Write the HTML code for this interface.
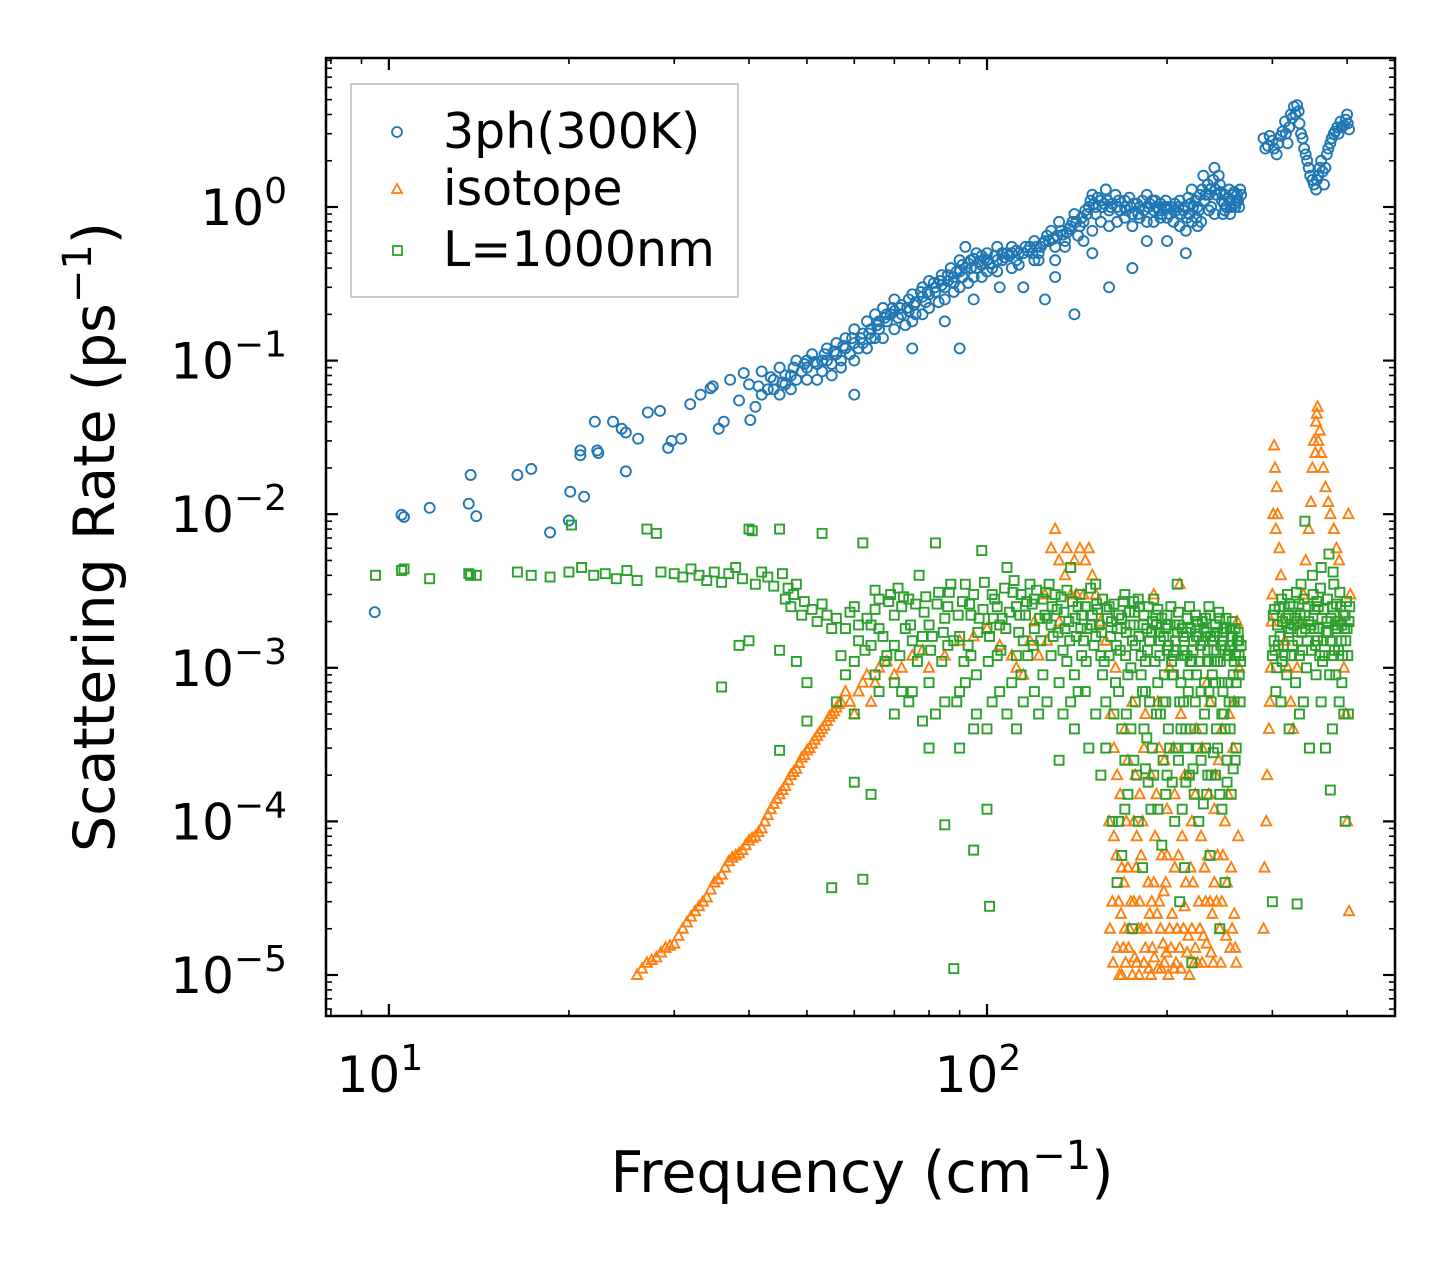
<!DOCTYPE html>
<html><head><meta charset="utf-8"><style>
html,body{margin:0;padding:0;background:#fff;}
svg{display:block;font-family:"DejaVu Sans","Liberation Sans",sans-serif;}
</style></head><body>
<svg id="chart" width="1455" height="1265" viewBox="0 0 1455 1265" xmlns="http://www.w3.org/2000/svg">
<rect width="1455" height="1265" fill="#fff"/>
<g id="marks"></g>
<g id="axes"></g>
<rect x="326" y="58" width="1069" height="958" fill="none" stroke="#000" stroke-width="2.5"/>
<text x="862" y="1192" font-size="57" text-anchor="middle">Frequency (cm<tspan dy="-23" font-size="40">−1</tspan><tspan dy="23">)</tspan></text>
<text transform="translate(114,537) rotate(-90)" font-size="57" text-anchor="middle">Scattering Rate (ps<tspan dy="-23" font-size="40">−1</tspan><tspan dy="23">)</tspan></text>
<g>
<rect x="351" y="84" width="387" height="213" fill="#fff" fill-opacity="0.8" stroke="#bbb" stroke-width="1.5"/>
<circle cx="397" cy="132" r="5" fill="none" stroke="#1f77b4" stroke-width="1.8"/>
<text x="443" y="148" font-size="49">3ph(300K)</text>
<polygon points="397,184 402,193 392,193" fill="none" stroke="#ff7f0e" stroke-width="1.8"/>
<text x="443" y="205" font-size="49">isotope</text>
<rect x="393" y="246" width="9" height="9" fill="none" stroke="#2ca02c" stroke-width="1.8"/>
<text x="443" y="266" font-size="49">L=1000nm</text>
</g>
</svg>
<script>
const xTickValues=[10,100];
const xTickLabels=["1","2"];
const yTickValues=[1,0.1,0.01,0.001,0.0001,0.00001];
const yTickLabels=["0","−1","−2","−3","−4","−5"];
const blueData=[[9.47,0.0023],[10.5,0.0099],[10.6,0.0096],[11.7,0.011],[13.6,0.0117],[13.7,0.018],[14.0,0.0097],[16.4,0.018],[17.3,0.0197],[18.6,0.0076],[20.0,0.0091],[20.1,0.014],[21.2,0.013],[20.9,0.0242],[20.9,0.026],[22.1,0.04],[22.3,0.026],[22.4,0.025],[23.7,0.04],[24.5,0.036],[24.9,0.034],[26.1,0.031],[24.9,0.019],[27.1,0.046],[28.4,0.047],[29.3,0.027],[29.7,0.03],[30.8,0.031],[31.9,0.052],[33.2,0.06],[34.5,0.066],[34.8,0.068],[35.6,0.036],[36.3,0.04],[37.2,0.075],[38.5,0.055],[39.2,0.083],[40.2,0.041],
[40,0.07],[41,0.05],[42,0.085],[43,0.065],[44,0.075],[45,0.09],[46,0.07],[47,0.08],[48,0.1],[49,0.085],[50,0.09],[51,0.11],[52,0.075],[53,0.1],[54,0.12],[55,0.095],[56,0.13],[57,0.1],[58,0.14],[59,0.11],[60,0.16],[61,0.12],[62,0.15],[63,0.18],[64,0.14],[65,0.2],[66,0.16],[67,0.22],[68,0.18],[69,0.2],[70,0.25],[71,0.19],[72,0.23],[74,0.21],[75,0.27],[76,0.2],[78,0.3],[79,0.24],[80,0.33],[82,0.28],[84,0.36],[85,0.3],[87,0.4],[88,0.32],[90,0.45],[91,0.35],[92,0.55],[94,0.4],[96,0.5],[98,0.42],[100,0.5],[102,0.4],[104,0.55],[106,0.45],[108,0.5],[110,0.55],[112,0.45],[115,0.5],[118,0.55],[120,0.6],[122,0.5],[125,0.6],[128,0.7],[130,0.55],[132,0.8],[135,0.6],[138,0.75],[140,0.9],[142,0.65],[145,0.8],[148,1.0],[150,1.2],[152,0.9],[155,1.1],[158,1.3],[160,0.95],[165,1.0],[170,1.1],[175,0.9],[180,1.0],[185,1.2],[190,0.95],[195,1.05],[200,1.0],[205,0.8],[210,1.1],[215,0.7],[218,0.9],[220,1.3],[225,1.0],[230,1.6],[235,1.2],[240,1.8],[245,1.4],[250,1.2],[255,1.1],[260,1.0],[265,1.3],
[42,0.06],[44,0.065],[46,0.08],[48,0.075],[50,0.1],[52,0.095],[54,0.1],[56,0.11],[58,0.12],[60,0.13],[62,0.13],[64,0.16],[66,0.18],[68,0.2],[70,0.21],[72,0.2],[74,0.25],[76,0.24],[78,0.26],[80,0.27],[82,0.3],[84,0.31],[86,0.33],[88,0.35],[90,0.38],[92,0.4],[94,0.45],[96,0.4],[98,0.48],[100,0.45],[103,0.48],[106,0.5],[109,0.48],[112,0.52],[116,0.55],[119,0.5],[123,0.55],[126,0.65],[129,0.62],[133,0.7],[136,0.68],[139,0.8],[143,0.75],[146,0.95],[149,1.1],[151,1.05],[153,1.15],[156,1.0],[159,1.1],[162,1.05],[164,1.2],[167,0.95],[170,1.0],[173,1.15],[176,1.05],[179,0.9],[182,1.1],[186,1.0],[189,1.1],[192,1.0],[196,0.9],[199,1.1],[203,1.0],[207,0.95],[211,0.9],[214,1.0],[217,1.15],[221,1.0],[224,0.85],[227,1.2],[231,1.1],[234,1.4],[237,1.0],[241,1.3],[244,1.6],[247,1.1],[251,1.0],[254,1.3],[258,1.2],[263,1.1],[266,1.2],
[45,0.06],[50,0.075],[55,0.08],[60,0.1],[65,0.14],[70,0.16],[75,0.18],[80,0.22],[85,0.25],[90,0.3],[95,0.35],[100,0.38],[110,0.4],[120,0.45],[130,0.45],[145,0.6],[155,0.8],[165,0.8],[175,0.75],[185,0.8],[195,0.85],[210,0.75],[225,0.75],[240,0.9],[255,0.9],
[60,0.06],[75,0.12],[85,0.18],[90,0.12],[95,0.25],[105,0.3],[115,0.3],[125,0.25],[140,0.2],[160,0.3],[175,0.4],[215,0.5],[200,0.6],[130,0.35],[150,0.5],[185,0.6],[228,0.8],[248,0.9],[262,1.2],
[290,2.8],[295,2.5],[300,2.7],[305,2.2],[310,2.9],[315,3.6],[318,2.6],[322,4.0],[326,4.5],[330,4.6],[333,3.5],[337,2.8],[341,2.2],[345,1.8],[350,1.5],[355,1.3],[358,1.6],[362,2.0],[366,1.4],[370,2.2],[375,2.6],[380,3.0],[385,3.3],[390,3.6],[395,3.4],[400,4.0],[403,3.2],
[292,2.4],[297,2.9],[302,2.4],[307,2.6],[312,3.1],[316,3.0],[320,3.3],[324,3.8],[328,4.0],[332,4.2],[335,3.0],[339,2.4],[343,2.0],[347,1.6],[352,1.4],[356,1.5],[360,1.8],[364,1.7],[368,1.8],[372,2.4],[377,2.8],[382,3.1],[387,3.0],[392,3.3],[398,3.7],[401,3.5]];
const blueExtra=[[41.5,0.068],[43.5,0.078],[45.5,0.072],[47.5,0.09],[49.5,0.095],[51.5,0.098],[53.5,0.11],[55.5,0.115],[57.5,0.125],[59.5,0.14],[61.5,0.14],[63.5,0.15],[65.5,0.17],[67.5,0.19],[69.5,0.22],[71.5,0.22],[73.5,0.22],[75.5,0.23],[77.5,0.28],[79.5,0.28],[81.5,0.32],[83.5,0.33],[86,0.36],[89,0.38],[91,0.42],[93,0.43],[95,0.46],[97,0.44],[99,0.46],[101,0.43],[104,0.45],[107,0.47],[110,0.5],[113,0.5],[117,0.52],[121,0.55],[124,0.58],[127,0.6],[131,0.65],[134,0.66],[137,0.72],[141,0.8],[144,0.85],[147,0.9],[152,1.0],[157,1.05],[161,1.0],[166,1.1],[171,0.95],[174,1.0],[178,1.05],[183,0.95],[187,1.05],[191,1.1],[194,0.95],[198,1.0],[202,0.9],[206,1.05],[209,1.0],[213,0.95],[216,0.85],[219,1.05],[223,1.1],[226,0.95],[229,1.3],[232,1.2],[236,1.3],[239,1.5],[242,1.2],[246,1.25],[249,1.05],[253,1.15],[256,1.0],[259,1.25],[261,1.1],[264,1.0],
[47,0.065],[53,0.085],[57,0.09],[63,0.12],[67,0.14],[73,0.17],[78,0.2],[83,0.24],[88,0.28],[93,0.32],[98,0.35],[104,0.38],[113,0.42],[122,0.45],[135,0.55],[150,0.7],[160,0.75],[170,0.85],[180,0.85],[190,0.8],[200,0.85],[220,0.8],[235,0.95],[250,0.95],[260,1.05]];
const orangeData=[[26,1e-5],[27,1.2e-5],[28,1.3e-5],[29,1.5e-5],[30,1.6e-5],[31,2e-5],[32,2.4e-5],[33,2.8e-5],[34,3.2e-5],[35,4e-5],[36,4.5e-5],[37,5.5e-5],[38,6e-5],[39,6.5e-5],[40,7.5e-5],[41,8e-5],[42,9e-5],[43,1.1e-4],[44,1.3e-4],[45,1.5e-4],[46,1.7e-4],[47,2e-4],[48,2.2e-4],[49,2.6e-4],[50,2.9e-4],[51,3.2e-4],[52,3.6e-4],[53,4e-4],[54,4.5e-4],[55,5e-4],[56,5.5e-4],[57,6e-4],[58,7e-4],[60,5e-4],[62,8e-4],[64,6e-4],[66,1e-3],[70,9e-4],[75,1.2e-3],[80,1e-3],[90,1.5e-3],[100,1.8e-3],[110,1.2e-3],[115,9e-4],[120,2e-3],[128,6e-3],[130,8e-3],[135,4e-3],[140,5e-3],[143,6e-3],[145,3e-3],[150,4e-3],[155,2e-3],[160,1e-4],[162,3e-5],[165,1.5e-5],[168,1e-5],[170,2e-5],[172,5e-5],[175,1e-5],[178,1.2e-5],[180,3e-5],[182,1e-4],[185,2e-5],[188,1e-5],[190,4e-5],[192,1.5e-4],[195,2e-5],[198,1.2e-5],[200,6e-5],[205,3e-4],[210,1.5e-5],[215,4e-5],[220,2e-5],[225,1.2e-5],[228,8e-5],[232,3e-5],[235,1.5e-4],[240,4e-5],[245,2e-5],[250,1e-4],[255,1.5e-5],[258,3e-4],[262,2e-3],[190,3e-3],[210,3.5e-3],[165,2e-4],[175,6e-4],[168,5e-5],[178,8e-5],[186,4e-5],[196,6e-5],[203,1.5e-5],[212,8e-5],[218,1e-5],[238,2.5e-5],[248,6e-5],
[26.5,1.1e-5],[27.5,1.25e-5],[28.5,1.4e-5],[29.5,1.55e-5],[30.5,1.8e-5],[31.5,2.2e-5],[32.5,2.6e-5],[33.5,3e-5],[34.5,3.6e-5],[35.5,4.2e-5],[36.5,5e-5],[37.5,5.8e-5],[38.5,6.2e-5],[39.5,7e-5],[40.5,7.8e-5],[41.5,8.5e-5],[42.5,1e-4],[43.5,1.2e-4],[44.5,1.4e-4],[45.5,1.6e-4],[46.5,1.85e-4],[47.5,2.1e-4],[48.5,2.4e-4],[49.5,2.7e-4],[50.5,3e-4],[51.5,3.4e-4],[52.5,3.8e-4],[53.5,4.2e-4],[54.5,4.8e-4],[55.5,5.2e-4],[56.5,5.8e-4],[59,6e-4],[61,7e-4],[63,9e-4],[65,8e-4],[68,1.1e-3],[72,1e-3],[78,1.3e-3],[85,1.2e-3],[95,1.6e-3],[105,1.4e-3],[112,1e-3],[118,1.5e-3],[125,3e-3],[132,5e-3],[138,3e-3],[148,6e-3],[152,3e-3],[158,1.5e-3],
[161,5e-4],[163,8e-5],[166,3e-5],[169,1.5e-5],[171,1e-4],[173,2e-5],[176,3e-5],[179,2e-5],[181,6e-5],[183,1.2e-5],[187,2.5e-5],[189,1.5e-5],[191,8e-5],[193,1.1e-5],[194,3e-5],[197,1.6e-5],[199,4e-5],[201,1e-5],[204,2.5e-5],[207,1.2e-5],[209,6e-5],[213,2e-5],[216,1.4e-5],[219,5e-5],[222,1.2e-5],[226,3e-5],[230,1.8e-5],[234,6e-5],[237,1.4e-5],[242,3e-5],[246,1.2e-5],[252,4e-5],[257,2e-5],[260,1.5e-5],[263,8e-5],
[164,1e-3],[170,4e-4],[177,2e-4],[184,5e-4],[194,3e-4],[202,1e-3],[214,2e-4],[224,4e-4],[236,6e-4],[244,2.5e-4],[254,5e-4],[264,1e-3],[180,1.5e-4],[200,1.2e-4],[220,1e-4],[240,1.2e-4],
[290,2e-5],[293,1e-4],[296,4e-4],[298,1e-3],[300,3e-3],[302,2.8e-2],[305,1.5e-2],[308,6e-3],[312,2e-3],[318,1e-3],[325,4e-4],[330,1e-3],[338,3e-3],[345,8e-3],[350,2e-2],[355,4e-2],[357,5e-2],[360,3.5e-2],[365,2e-2],[372,1.2e-2],[380,8e-3],[388,5e-3],[395,1e-3],[400,1e-4],[403,2.6e-5],[405,3e-3],
[291,5e-5],[294,2e-4],[297,6e-4],[299,2e-3],[301,1e-2],[303,2e-2],[304,8e-3],[306,1e-2],[310,4e-3],[315,1.5e-3],[322,6e-4],[334,2e-3],[341,5e-3],[348,1.2e-2],[352,3e-2],[354,2.5e-2],[356,4.5e-2],[358,3e-2],[362,2.5e-2],[368,1.5e-2],[375,1e-2],[384,6e-3],[392,2e-3],[398,5e-4],[402,1e-2]];
const orangeExtra=[[160.5,2e-5],[162.5,1.2e-5],[164.5,6e-5],[166.5,1e-5],[167.5,2.5e-5],[169.5,4e-5],[170.5,1.2e-5],[172.5,1.5e-5],[174,3e-5],[176.5,1.3e-5],[177.5,5e-5],[179.5,1e-5],[181,2e-5],[184,1.5e-5],[186.5,1.1e-5],[188.5,3e-5],[190.5,1.3e-5],[192.5,2.5e-5],[195.5,1.1e-5],[197.5,3.5e-5],[199.5,1.4e-5],[202,2e-5],[205.5,1.1e-5],[206,5e-5],[208,2e-5],[211,1.1e-5],[214,2.8e-5],[217,1.8e-5],[221,4e-5],[223,1.5e-5],[227,2e-5],[229,1.2e-5],[231,5e-5],[233,1.6e-5],[236,3e-5],[239,1.2e-5],[243,6e-5],[247,3e-5],[251,1.8e-5],[256,5e-5],[259,2.5e-5],[261,1.2e-5],
[163,3e-4],[167,1.5e-4],[172,2.5e-4],[176,1e-4],[183,3e-4],[188,2e-4],[193,6e-4],[198,2.5e-4],[206,1.5e-4],[211,5e-4],[217,2e-4],[223,1.5e-4],[229,3e-4],[233,8e-4],[241,2e-4],[247,4e-4],[253,1.5e-4],[259,6e-4],[132,2e-3],[136,6e-3],[141,3e-3],[146,5e-3],[126,1.5e-3],[122,1.2e-3]];
const greenData=[[9.5,0.004],[10.5,0.0043],[10.6,0.0044],[11.7,0.0038],[13.6,0.0041],[13.7,0.004],[14,0.004],[16.4,0.0042],[17.3,0.004],[18.6,0.0039],[20,0.0042],[20.2,0.0085],[21,0.0045],[22,0.004],[23,0.0041],[24,0.0038],[25,0.0043],[26,0.0037],[27,0.008],[28,0.0075],[28.5,0.0042],[30,0.0041],[31,0.0039],[32,0.0044],[33,0.004],[34,0.0037],[35,0.0042],[36,0.0036],[37,0.0041],[38,0.0045],[39,0.0038],[40,0.008],[40.5,0.0078],[41,0.0035],[42,0.0042],[43,0.0039],[44,0.0034],[45,0.008],[45.5,0.0041],[46,0.0028],[47,0.0025],[48,0.0035],[49,0.0022],[38.5,0.0014],[40,0.0015],[36,7.5e-4],[45,0.0013],[48,0.0011],[50,0.0008],[52,0.002],[53,0.0075],[55,0.0018],[56,0.0006],[57,0.0012],[58,0.0009],[60,0.0025],[62,0.0065],[64,0.0019],[45,2.9e-4],[50,4.5e-4],[55,3.7e-5],[62,4.2e-5],[60,0.00018],[64,0.00015],[65,0.0032],[68,0.0012],[70,0.0022],[72,0.0007],[74,0.0028],[75,0.0015],[77,0.004],[78,0.00045],[80,0.0019],[82,0.0065],[84,0.0011],[85,9.5e-5],[86,0.0025],[88,1.1e-5],[89,0.0006],[90,0.0016],[92,0.0035],[94,0.0022],[95,6.5e-5],[96,0.0009],[98,0.0058],[100,0.0018],[101,2.8e-5],[100,1.2e-4],[102,0.003],[104,0.0012],[106,0.0021],[108,0.0045],[110,0.0008],[112,0.0025],[115,0.0015],[118,0.0035],[120,0.0018],[122,0.0005],[125,0.0022],[128,0.0012],[130,0.003],[132,0.00025],[135,0.0018],[138,0.0045],[140,0.0009],[142,0.0025],[145,0.0015],[148,0.0003],[150,0.0022],[152,0.0035],[155,0.0012],[158,0.0006],[160,0.0025],[162,0.0001],[165,0.0018],[168,0.0004],[170,0.003],[172,0.0009],[175,0.0015],[178,0.0002],[180,0.0025],[182,0.0007],[185,0.0018],[188,0.00012],[190,0.0028],[192,0.0005],[195,0.0015],[198,0.0009],[200,0.0022],[202,0.0003],[205,0.0012],[208,0.0035],[210,0.0006],[212,0.0018],[215,0.0004],[218,0.0025],[220,0.0011],[222,0.00015],[225,0.002],[228,0.0007],[230,0.0015],[232,0.0003],[235,0.0025],[238,0.0009],[240,0.0016],[242,0.0004],[245,0.0021],[248,0.0007],[250,0.0013],[252,0.00025],[255,0.0018],[258,0.0009],[262,0.0015],[265,0.0006],[60,0.0005],[70,0.0005],[80,0.0003],[90,0.0003],[95,0.0004],[105,0.0007],[115,0.0006],[220,1.2e-5],[175,2e-5],[165,4e-5],[210,3e-5],[245,2e-5],
[66,0.0018],[72,0.0025],[78,0.0016],[86,0.0014],[94,0.0012],[104,0.0025],[112,0.0012],[120,0.0028],[128,0.0019],[136,0.0011],[144,0.0022],[152,0.0016],[160,0.0012],[168,0.0021],[176,0.0027],[184,0.0011],[192,0.0019],[200,0.0013],[208,0.0017],[216,0.0012],[224,0.0016],[232,0.0021],[240,0.0011],[248,0.0017],[256,0.0014],[140,0.0004],[155,0.0002],[170,0.00025],[185,0.00035],[200,0.0002],[215,0.00018],[230,0.00013],[250,0.0004],[260,0.00025],
[46.5,0.0033],[47.5,0.003],[49.5,0.0027],[51,0.0024],[53,0.0026],[54,0.0022],[56,0.0021],[58,0.0018],[59,0.0023],[61,0.0015],[63,0.0021],[64,0.0014],[66,0.0028],[67,0.0016],[69,0.003],[70,0.0014],[71,0.0033],[73,0.0018],[76,0.0026],[77,0.0013],[79,0.0029],[81,0.0016],[83,0.0031],[85,0.0021],[87,0.0035],[88,0.0015],[91,0.0027],[93,0.0014],[95,0.003],[97,0.0021],[99,0.0036],[101,0.0016],[103,0.0028],[105,0.0019],[107,0.0033],[109,0.0023],[111,0.0037],[113,0.0017],[114,0.003],[116,0.0022],[117,0.0012],[119,0.0026],[121,0.0032],[123,0.0015],[124,0.0028],[126,0.0021],[127,0.0035],[129,0.0016],[131,0.0024],[133,0.0029],[134,0.0013],[136,0.0032],[137,0.002],[139,0.0027],[141,0.0016],[143,0.003],[144,0.0012],[146,0.0025],[147,0.0018],[149,0.0033],[151,0.0014],[153,0.0024],[154,0.0019],[156,0.0028],[157,0.0011],[159,0.0021],[161,0.0016],[163,0.0026],[164,0.0008],[166,0.0022],[167,0.0013],[169,0.0027],[171,0.0017],[173,0.0023],[174,0.001],[176,0.0019],[177,0.0014],[179,0.0028],[181,0.0012],[183,0.0022],[184,0.0007],[186,0.0025],[187,0.0015],[189,0.002],[191,0.0011],[193,0.0024],[194,0.0017],[196,0.0021],[197,0.0006],[199,0.0018],[201,0.0014],[203,0.0025],[204,0.0009],[206,0.0019],[207,0.0013],[209,0.0023],[211,0.0008],[213,0.0016],[214,0.0012],[216,0.0021],[217,0.0007],[219,0.0018],[221,0.0013],[223,0.0022],[224,0.0009],[226,0.0016],[227,0.0011],[229,0.002],[231,0.0008],[233,0.0017],[234,0.0013],[236,0.0022],[237,0.0006],[239,0.0015],[241,0.0019],[243,0.0011],[244,0.0023],[246,0.0014],[247,0.0008],[249,0.0018],[251,0.0021],[253,0.0012],[254,0.0006],[256,0.0016],[257,0.002],[259,0.0011],[260,0.0018],[261,0.0008],[263,0.0017],[264,0.0012],[266,0.0014],
[60,0.0011],[65,0.0009],[70,0.0008],[75,0.0007],[80,0.0008],[85,0.0006],[90,0.0007],[96,0.0005],[102,0.0006],[108,0.0005],[114,0.0009],[120,0.0007],[126,0.0006],[132,0.0008],[138,0.0006],[146,0.0007],[152,0.0005],[158,0.0003],[163,0.0005],[171,0.0005],[177,0.0006],[183,0.0004],[189,0.0003],[195,0.0005],[201,0.0004],[207,0.0003],[213,0.0006],[219,0.0004],[225,0.0003],[231,0.0005],[237,0.0002],[243,0.0003],[249,0.0005],[255,0.0004],[261,0.0003],
[166,0.0001],[172,0.00015],[179,0.0001],[186,0.00018],[193,0.00012],[199,0.00015],[206,0.0001],[212,0.00012],[218,0.0002],[226,0.0001],[233,0.00015],[241,0.0002],[247,0.00012],[256,0.00015],[168,6e-5],[182,5e-5],[196,7e-5],[214,5e-5],[236,6e-5],[250,4e-5],
[300,3e-5],[302,0.0015],[305,0.001],[308,0.0025],[310,0.0006],[312,0.002],[315,0.0012],[318,0.003],[320,0.0004],[322,0.0018],[325,0.0025],[328,0.0008],[330,0.002],[333,0.0012],[335,0.0035],[338,0.0006],[340,0.0022],[343,0.0015],[346,0.0003],[350,0.004],[352,0.0018],[355,0.0009],[358,0.0025],[360,0.0012],[362,0.0045],[365,0.0015],[368,0.0003],[370,0.002],[373,0.0055],[375,0.0015],[378,0.0025],[380,0.0035],[383,0.0009],[385,0.0018],[388,0.0006],[390,0.0025],[393,0.0012],[395,0.0005],[397,0.0001],[398,0.0015],[375,1.6e-4],[330,2.9e-5],[340,9e-3],[402,0.0005],[404,0.0025],
[301,0.0022],[303,0.0013],[306,0.0019],[309,0.0016],[311,0.0028],[313,0.0014],[316,0.0021],[319,0.0017],[321,0.0026],[324,0.0014],[326,0.0019],[329,0.0031],[331,0.0015],[334,0.0022],[336,0.0017],[339,0.0028],[342,0.001],[344,0.0025],[348,0.0019],[351,0.003],[354,0.0014],[356,0.0027],[359,0.0018],[361,0.0033],[364,0.0011],[366,0.0024],[369,0.0017],[371,0.0028],[374,0.0009],[376,0.0021],[379,0.0042],[381,0.0013],[384,0.0026],[386,0.002],[389,0.0031],[391,0.0015],[394,0.0022],[396,0.0018],[399,0.0027],[401,0.0012],[403,0.002],[362,0.0006],[378,0.0004],[392,0.0008],[304,0.0007],[317,0.0009],[333,0.0005]];
const greenExtra=[[61,0.0019],[62.5,0.0013],[65,0.0024],[67.5,0.0011],[68.5,0.0027],[71.5,0.0012],[72.5,0.0029],[74.5,0.0019],[76.5,0.0011],[78.5,0.0023],[80.5,0.0013],[82.5,0.0026],[84.5,0.0017],[86.5,0.0031],[89.5,0.0022],[91.5,0.0011],[93.5,0.0026],[96.5,0.0017],[98.5,0.0024],[100.5,0.0011],[102.5,0.0021],[105.5,0.0013],[107.5,0.0018],[110.5,0.0031],[113.5,0.0022],[116.5,0.0027],[119.5,0.0014],[122.5,0.0021],[125.5,0.0031],[128.5,0.0025],[131.5,0.0017],[134.5,0.0023],[137.5,0.0015],[140.5,0.0021],[143.5,0.0018],[146.5,0.0011],[149.5,0.0019],[152.5,0.0026],[155.5,0.0017],[158.5,0.0024],[161.5,0.002],[164.5,0.0014],[167.5,0.0018],[170.5,0.0012],[173.5,0.0019],[176.5,0.0023],[179.5,0.0016],[182.5,0.0019],[185.5,0.0013],[188.5,0.0017],[191.5,0.0022],[194.5,0.0012],[197.5,0.0016],[200.5,0.0019],[203.5,0.0011],[206.5,0.0015],[209.5,0.0019],[212.5,0.0013],[215.5,0.0017],[218.5,0.0011],[221.5,0.0015],[224.5,0.0019],[227.5,0.0014],[230.5,0.0018],[233.5,0.0011],[236.5,0.0016],[239.5,0.0013],[242.5,0.0017],[245.5,0.0011],[248.5,0.0015],[251.5,0.0018],[254.5,0.0013],[257.5,0.0016],[260.5,0.0012],[263.5,0.0015],[265.5,0.0011],
[66,0.0007],[74,0.0006],[82,0.0005],[92,0.0008],[100,0.0004],[112,0.0004],[124,0.0009],[134,0.0005],[142,0.0007],[156,0.0009],[166,0.0007],[174,0.0004],[181,0.0009],[187,0.0006],[193,0.0008],[199,0.0006],[205,0.0009],[211,0.0004],[217,0.0009],[223,0.0006],[229,0.0004],[235,0.0007],[241,0.0008],[247,0.0005],[253,0.0008],[259,0.0006],[264,0.0009],
[170,0.00012],[176,0.00025],[184,0.00022],[190,0.0002],[197,0.00025],[204,0.00018],[209,0.00025],[216,0.0003],[221,0.00022],[228,0.00025],[234,0.0002],[239,0.00028],[245,0.00015],[252,0.00018],[258,0.00022],
[300,0.0012],[302.5,0.0024],[307,0.0014],[311.5,0.0011],[314,0.0025],[319.5,0.0022],[323,0.0012],[327,0.0021],[332,0.0026],[337,0.0013],[341,0.0018],[345,0.002],[349,0.0013],[353,0.0024],[357,0.0015],[363,0.0021],[367,0.0012],[372,0.0017],[377,0.0012],[382,0.0019],[387,0.0013],[392,0.0019],[397,0.0022],[400,0.0018]];

const X0=326,X1=1395,Y0=58,Y1=1016;
const xLogMin=Math.log10(7.85),xLogMax=Math.log10(481);
const yLogMin=-5.267,yLogMax=0.97;
function xScale(v){return X0+(Math.log10(v)-xLogMin)/(xLogMax-xLogMin)*(X1-X0);}
function yScale(v){return Y1-(Math.log10(v)-yLogMin)/(yLogMax-yLogMin)*(Y1-Y0);}
const NS="http://www.w3.org/2000/svg";
const marks=document.getElementById('marks');
const axes=document.getElementById('axes');
function mk(tag,parent){const e=document.createElementNS(NS,tag);parent.appendChild(e);return e;}

const gB=mk('g',marks);


blueData.concat(blueExtra).forEach(d=>{const c=mk('circle',gB);c.setAttribute('cx',xScale(d[0]));c.setAttribute('cy',yScale(d[1]));c.setAttribute('r',5);c.setAttribute('fill','none');c.setAttribute('stroke','#1f77b4');c.setAttribute('stroke-width',1.9);

});
const gO=mk('g',marks);


orangeData.concat(orangeExtra).forEach(d=>{const x=xScale(d[0]),y=yScale(d[1]);const p=mk('polygon',gO);p.setAttribute('points',`${x},${y-5.5} ${x+5},${y+4} ${x-5},${y+4}`);p.setAttribute('fill','none');p.setAttribute('stroke','#ff7f0e');p.setAttribute('stroke-width',1.9);

});
const gG=mk('g',marks);


greenData.concat(greenExtra).forEach(d=>{const x=xScale(d[0]),y=yScale(d[1]);const r=mk('rect',gG);r.setAttribute('x',x-4.5);r.setAttribute('y',y-4.5);r.setAttribute('width',9);r.setAttribute('height',9);r.setAttribute('fill','none');r.setAttribute('stroke','#2ca02c');r.setAttribute('stroke-width',1.9);

});

function line(x1,y1,x2,y2,w){const l=mk('line',axes);l.setAttribute('x1',x1);l.setAttribute('y1',y1);l.setAttribute('x2',x2);l.setAttribute('y2',y2);l.setAttribute('stroke','#000');l.setAttribute('stroke-width',w);

}
for(let dec=1;dec<=100;dec*=10){for(let k=1;k<=9;k++){const v=dec*k;if(v<7.85||v>481)continue;const x=xScale(v);const major=(k===1);const L=major?12:6;line(x,Y1,x,Y1-L,major?2.2:1.6);line(x,Y0,x,Y0+L,major?2.2:1.6);}}
xTickValues.forEach((v,i)=>{const t=mk('text',axes);t.setAttribute('x',xScale(v)-9);t.setAttribute('y',1092);t.setAttribute('font-size',50);t.setAttribute('text-anchor','middle');


t.innerHTML='10<tspan dy="-22" font-size="36">'+xTickLabels[i]+'</tspan>';});
for(let e=-6;e<=0;e++){for(let k=1;k<=9;k++){const v=k*Math.pow(10,e);const lv=Math.log10(v);if(lv<yLogMin||lv>yLogMax)continue;const y=yScale(v);const major=(k===1);const L=major?12:6;line(X0,y,X0+L,y,major?2.2:1.6);line(X1,y,X1-L,y,major?2.2:1.6);}}
yTickValues.forEach((v,i)=>{const t=mk('text',axes);t.setAttribute('x',287);t.setAttribute('y',yScale(v)+18);t.setAttribute('font-size',50);t.setAttribute('text-anchor','end');


t.innerHTML='10<tspan dy="-22" font-size="36">'+yTickLabels[i]+'</tspan>';});
</script>
</body></html>
